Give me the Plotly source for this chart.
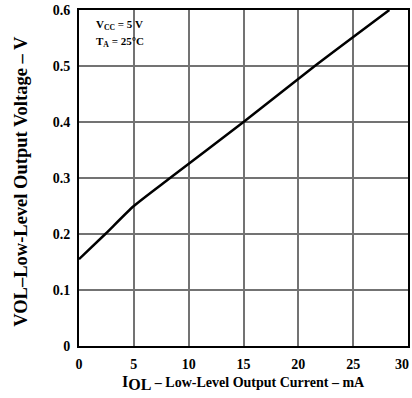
import plotly.graph_objects as go

# Low-level output voltage vs. low-level output current (VCC = 5 V, TA = 25 °C)
i_ol_ma = [0, 2.4, 5, 8.3, 15, 21.5, 28.3]
v_ol_v = [0.155, 0.2, 0.25, 0.3, 0.4, 0.5, 0.6]

x_ticks = [0, 5, 10, 15, 20, 25, 30]
y_ticks = [0, 0.1, 0.2, 0.3, 0.4, 0.5, 0.6]

FONT = "Liberation Serif, Times New Roman, serif"
TICK_FONT = dict(family=FONT, size=14, color="black", weight="bold")

fig = go.Figure()
fig.add_trace(go.Scatter(
    x=i_ol_ma, y=v_ol_v, mode="lines",
    line=dict(color="black", width=2.5, shape="spline", smoothing=0.6),
    showlegend=False, hoverinfo="skip",
))

axis_common = dict(
    showline=True, linecolor="black", linewidth=2, mirror=True,
    showgrid=True, gridcolor="#737373", gridwidth=2,
    zeroline=False,
    ticks="outside", ticklen=4, tickcolor="rgba(0,0,0,0)",
    ticklabeloverflow="allow",
    tickfont=TICK_FONT,
)

# last x label is drawn separately, right-aligned so it stays inside the page
fig.update_xaxes(range=[0, 30], tickmode="array", tickvals=x_ticks,
                 ticktext=[str(v) for v in x_ticks[:-1]] + [""], **axis_common)
fig.update_yaxes(range=[0, 0.6], tickmode="array", tickvals=y_ticks,
                 ticktext=["0" if v == 0 else f"{v:.1f}" for v in y_ticks],
                 **axis_common)
fig.add_annotation(
    xref="x", yref="paper", x=x_ticks[-1], y=0, xanchor="right", yanchor="top",
    xshift=3, yshift=-9, text=str(x_ticks[-1]), showarrow=False, font=TICK_FONT,
)

fig.add_annotation(
    xref="paper", yref="paper", x=0.5, y=-0.075, xanchor="center", yanchor="top",
    text=("<span style='font-size:16px'>I</span><sub><span style='font-size:16px'>OL</span></sub>"
          " – Low-Level Output Current – mA"),
    showarrow=False,
    font=dict(family=FONT, size=14, color="black", weight="bold"),
)
fig.add_annotation(
    xref="paper", yref="paper", x=-0.175, y=0.49, xanchor="center", yanchor="middle",
    text="VOL–Low-Level Output Voltage – V", textangle=-90, showarrow=False,
    font=dict(family=FONT, size=18.5, color="black", weight="bold"),
)
fig.add_annotation(
    xref="paper", yref="paper", x=0.045, y=0.955, xanchor="left", yanchor="middle",
    text="V<sub>CC</sub> = 5 V", showarrow=False,
    font=dict(family=FONT, size=11, color="black", weight="bold"),
)
fig.add_annotation(
    xref="paper", yref="paper", x=0.045, y=0.905, xanchor="left", yanchor="middle",
    text="T<sub>A</sub> = 25°C", showarrow=False,
    font=dict(family=FONT, size=11, color="black", weight="bold"),
)

fig.update_layout(
    template="none",
    width=412, height=398,
    margin=dict(l=79, r=4, t=10, b=52),
    paper_bgcolor="white", plot_bgcolor="white",
)

fig.write_html("out.html")
